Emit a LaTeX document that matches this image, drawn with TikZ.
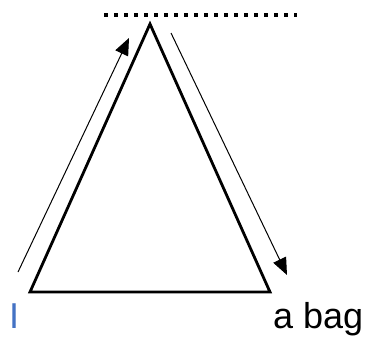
\documentclass[tikz,border=0pt]{standalone}
\usepackage{fontspec}
\setmainfont{Liberation Sans}
\usetikzlibrary{arrows.meta}
\definecolor{textblue}{HTML}{4472C4}
\tikzset{
  tri/.style={line width=2.8pt, line join=miter, miter limit=3},
  flow/.style={line width=1pt, -{Triangle[length=17pt,width=14pt]}},
  dots/.style={line width=3.5pt, dash pattern=on 3.5pt off 6.5pt},
  lbl/.style={inner sep=0pt, anchor=base west, font=\fontsize{36pt}{40pt}\selectfont}
}
\begin{document}
\begin{tikzpicture}[x=1pt,y=-1pt]
\useasboundingbox (0,0) rectangle (369,337);
\coordinate (apex) at (150,24);
\coordinate (bl) at (30,292);
\coordinate (br) at (270,292);
\draw[tri] (apex) -- (br) -- (bl) -- cycle;
\coordinate (d1) at (104,15);
\coordinate (d2) at (297,15);
\draw[dots] (d1) -- (d2);
\coordinate (u1) at (18,272);
\coordinate (u2) at (129,38);
\draw[flow] (u1) -- (u2);
\coordinate (r1) at (171,33);
\coordinate (r2) at (287,275);
\draw[flow] (r1) -- (r2);
\node[lbl, text=textblue] (i) at (9,328) {I};
\node[lbl] (bag) at (273,328) {a bag};
\end{tikzpicture}
\end{document}
